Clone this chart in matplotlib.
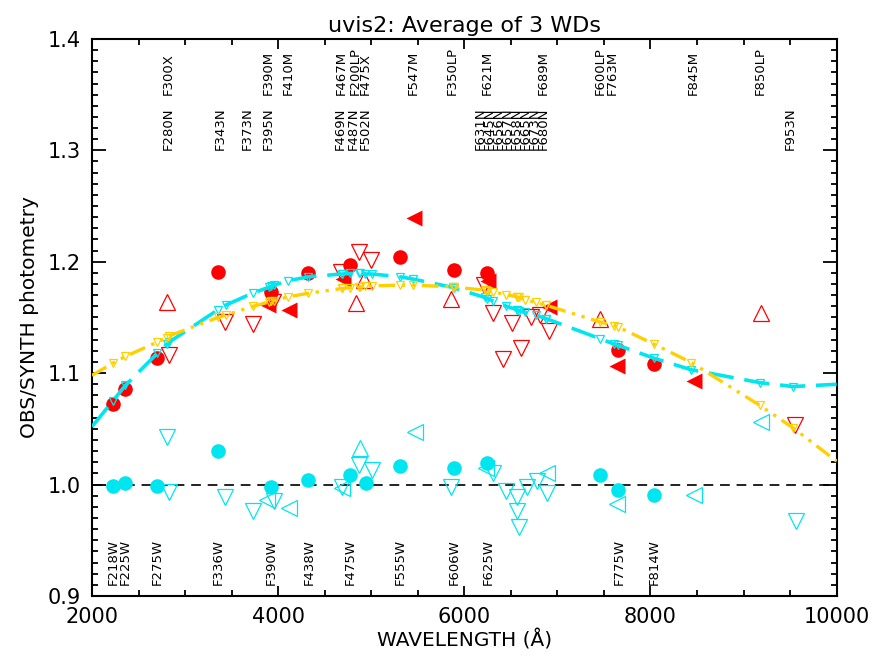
import matplotlib
matplotlib.use('Agg')
import matplotlib.pyplot as plt
from matplotlib.ticker import MultipleLocator

RED = '#ff0000'
CYAN = '#00e6f0'
GOLD = '#ffd000'

# wide filters: filled circles
red_w_wave = [2224, 2359, 2704, 3355, 3924, 4326, 4774, 5308, 5889, 6243, 7651, 8039]
red_w_val = [1.072, 1.086, 1.114, 1.191, 1.173, 1.190, 1.197, 1.204, 1.193, 1.190, 1.121, 1.108]
cyan_w_wave = [2224, 2359, 2704, 3355, 3924, 4326, 4774, 4946, 5308, 5889, 6243, 7457, 7651, 8039]
cyan_w_val = [0.999, 1.001, 0.999, 1.030, 0.998, 1.004, 1.009, 1.001, 1.017, 1.015, 1.019, 1.009, 0.995, 0.991]

# medium filters: left triangles
red_m_wave = [3896, 4122, 4695, 5456, 6258, 6907, 7641, 8466]
red_m_val = [1.161, 1.157, 1.1845, 1.239, 1.183, 1.159, 1.106, 1.093]
cyan_m_wave = [3885, 4122, 4683, 5470, 6230, 6890, 7635, 8466, 9190]
cyan_m_val = [0.986, 0.979, 0.997, 1.047, 1.015, 1.010, 0.983, 0.991, 1.056]

# long-pass / X filters: up triangles
red_lp_wave = [2806, 4835, 4920, 5853, 7462, 9190]
red_lp_val = [1.164, 1.163, 1.184, 1.167, 1.149, 1.154]
cyan_lp_wave = [4882]
cyan_lp_val = [1.033]

# narrow filters: down triangles
red_n_wave = [2832, 3434, 3731, 3950, 4680, 4874, 5000, 6208, 6309, 6412, 6513,
              6613, 6717, 6817, 6906, 9549]
red_n_val = [1.116, 1.146, 1.144, 1.164, 1.191, 1.209, 1.2015, 1.179, 1.154, 1.113, 1.145,
             1.123, 1.1505, 1.152, 1.138, 1.0535]
cyan_n_wave = [2806, 2832, 3434, 3731, 3954, 4688, 4871, 5010, 5853, 6304, 6453, 6561,
               6567, 6584, 6674, 6782, 6889, 9560]
cyan_n_val = [1.043, 0.993, 0.989, 0.976, 0.985, 0.998, 1.018, 1.013, 0.998, 1.010, 0.994, 0.989,
              0.976, 0.962, 0.998, 1.003, 0.992, 0.967]

# model ratios at each filter pivot, with the plot edges at both ends
model_wave = [2000, 2224, 2359, 2704, 2805, 2832, 3355, 3435, 3730, 3897, 3924, 3955, 4109,
              4326, 4683, 4688, 4774, 4871, 4875, 4937, 5010, 5308, 5447, 5875, 5889, 6219,
              6243, 6304, 6453, 6561, 6567, 6584, 6655, 6766, 6877, 6878, 7457, 7613, 7651,
              8039, 8439, 9176, 9530, 10000]
model_a = [1.052, 1.075, 1.089, 1.118, 1.126, 1.128, 1.157, 1.161, 1.172, 1.177, 1.178, 1.179,
           1.183, 1.1865, 1.189, 1.189, 1.1895, 1.1895, 1.1895, 1.189, 1.189, 1.1865, 1.1845,
           1.177, 1.1765, 1.168, 1.167, 1.165, 1.160, 1.157, 1.157, 1.156, 1.1545, 1.152,
           1.149, 1.149, 1.131, 1.126, 1.125, 1.1134, 1.103, 1.0915, 1.088, 1.090]
model_b = [1.098, 1.109, 1.115, 1.128, 1.132, 1.1335, 1.150, 1.152, 1.160, 1.1638, 1.1645,
           1.165, 1.1686, 1.1717, 1.176, 1.176, 1.1768, 1.1775, 1.1775, 1.178, 1.1783, 1.179,
           1.179, 1.1775, 1.1773, 1.1745, 1.174, 1.173, 1.1705, 1.1686, 1.1685, 1.168, 1.166,
           1.1635, 1.161, 1.161, 1.146, 1.1425, 1.1415, 1.126, 1.1095, 1.071, 1.051, 1.021]

# filter names, rows of text
top_names = ['F300X', 'F390M', 'F410M', 'F467M', 'F200LP', 'F475X', 'F547M', 'F350LP',
             'F621M', 'F689M', 'F600LP', 'F763M', 'F845M', 'F850LP']
top_x = [2817, 3894, 4109, 4677, 4827, 4937, 5451, 5870, 6243, 6851, 7461, 7587, 8463, 9181]
mid_names = ['F280N', 'F343N', 'F373N', 'F395N', 'F469N', 'F487N', 'F502N', 'F631N', 'F645N',
             'F656N', 'F657N', 'F658N', 'F665N', 'F673N', 'F680N', 'F953N']
mid_x = [2817, 3376, 3666, 3894, 4666, 4806, 4935, 6172, 6269, 6365, 6462, 6559, 6656, 6752,
         6849, 9503]
low_names = ['F218W', 'F225W', 'F275W', 'F336W', 'F390W', 'F438W', 'F475W', 'F555W', 'F606W',
             'F625W', 'F775W', 'F814W']
low_x = [2226, 2355, 2699, 3357, 3924, 4333, 4773, 5311, 5892, 6254, 7667, 8044]

fig = plt.figure(figsize=(8.86, 6.6), dpi=100)
ax = fig.add_axes([0.1038, 0.097, 0.8405, 0.844])

ax.axhline(1.0, color='#222222', lw=1.4, ls=(0, (5, 3.5)), zorder=1)

ax.plot(red_w_wave, red_w_val, 'o', color=RED, ms=10.5, mec='none', zorder=3)
ax.plot(cyan_w_wave, cyan_w_val, 'o', color=CYAN, ms=10.5, mec='none', zorder=3)
ax.plot(red_m_wave, red_m_val, '<', color=RED, ms=11, mec='none', zorder=3)
ax.plot(cyan_m_wave, cyan_m_val, '<', mfc='none', mec=CYAN, mew=0.9, ms=11, zorder=3)
ax.plot(red_lp_wave, red_lp_val, '^', mfc='none', mec=RED, mew=0.9, ms=11, zorder=3)
ax.plot(cyan_lp_wave, cyan_lp_val, '^', mfc='none', mec=CYAN, mew=0.9, ms=11, zorder=3)
ax.plot(red_n_wave, red_n_val, 'v', mfc='none', mec=RED, mew=0.9, ms=11, zorder=3)
ax.plot(cyan_n_wave, cyan_n_val, 'v', mfc='none', mec=CYAN, mew=0.9, ms=11, zorder=3)

ax.plot(model_wave, model_a, color=CYAN, lw=2.6, ls=(0, (7, 3)), zorder=4)
ax.plot(model_wave[1:-1], model_a[1:-1], 'v', mfc='none', mec=CYAN, mew=0.9, ms=5.5, zorder=4)
ax.plot(model_wave, model_b, color=GOLD, lw=2.4, ls=(0, (5, 2, 1, 2, 1, 2)), zorder=5)
ax.plot(model_wave[1:-1], model_b[1:-1], 'v', mfc='none', mec=GOLD, mew=0.9, ms=5.5, zorder=5)

for names, xs, y in [(top_names, top_x, 1.35), (mid_names, mid_x, 1.30), (low_names, low_x, 0.91)]:
    for name, x in zip(names, xs):
        ax.text(x, y, name, rotation=90, ha='center', va='bottom', fontsize=9.5, zorder=6)

ax.set_xlim(2000, 10000)
ax.set_ylim(0.9, 1.4)
ax.xaxis.set_major_locator(MultipleLocator(2000))
ax.xaxis.set_minor_locator(MultipleLocator(500))
ax.yaxis.set_major_locator(MultipleLocator(0.1))
ax.yaxis.set_minor_locator(MultipleLocator(0.01))
ax.yaxis.set_major_formatter(plt.FormatStrFormatter('%.1f'))
ax.tick_params(which='both', direction='in', top=True, right=True, width=1.3, labelsize=15, pad=8)
ax.tick_params(axis='x', which='major', length=7)
ax.tick_params(axis='y', which='major', length=10)
ax.tick_params(which='minor', length=4.5)
for s in ax.spines.values():
    s.set_linewidth(1.5)

ax.set_title('uvis2: Average of 3 WDs', fontsize=16, pad=5)
ax.set_xlabel('WAVELENGTH (Å)', fontsize=14.5, labelpad=2)
ax.set_ylabel('OBS/SYNTH photometry', fontsize=14.5, labelpad=6)

fig.savefig('out.png', dpi=100)
